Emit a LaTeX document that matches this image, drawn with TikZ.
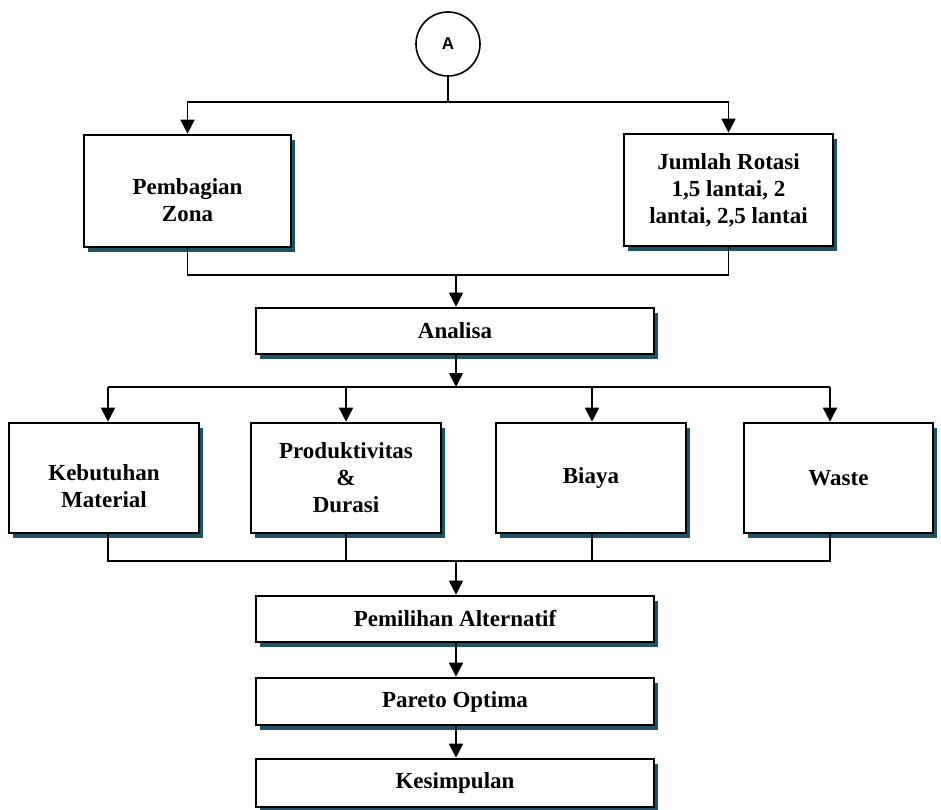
\documentclass[tikz,border=0pt]{standalone}
\usepackage{fontspec}
\setmainfont{Liberation Serif}
\newfontfamily\arialfont{Liberation Sans}
\usetikzlibrary{arrows.meta,shadows}
\definecolor{shadowc}{RGB}{31,82,98}
\begin{document}
\begin{tikzpicture}[x=1pt,y=-1pt,
  bx/.style={draw=black, line width=2.6pt, fill=white, align=center,
    font=\bfseries\fontsize{23}{27}\selectfont, inner sep=2pt,
    drop shadow={shadow xshift=4pt, shadow yshift=-5pt, fill=shadowc, opacity=1}},
  ln/.style={line width=1.6pt},
  ar/.style={line width=1.6pt, -{Triangle[width=14pt,length=14pt]}}]
\useasboundingbox (0,0) rectangle (941,810);
% circle
\node[draw, circle, line width=1.6pt, minimum size=64pt, inner sep=0pt,
  font=\arialfont\bfseries\fontsize{17}{20}\selectfont] (A) at (448,44) {A};
% boxes
\node[bx, minimum width=207pt, minimum height=112pt] (pz) at (187.5,191) {\rule{0pt}{34pt}Pembagian\\Zona};
\node[bx, minimum width=209pt, minimum height=112pt] (jr) at (728.5,190) {Jumlah Rotasi\\1,5 lantai, 2\\lantai, 2,5 lantai};
\node[bx, minimum width=398pt, minimum height=46pt] (an) at (455,331) {Analisa};
\node[bx, minimum width=190pt, minimum height=110pt] (km) at (104,478) {\rule{0pt}{32pt}Kebutuhan\\Material};
\node[bx, minimum width=190pt, minimum height=110pt] (pd) at (346,478) {Produktivitas\\\&\\Durasi};
\node[bx, minimum width=190pt, minimum height=110pt] (by) at (591,478) {Biaya};
\node[bx, minimum width=189pt, minimum height=110pt] (ws) at (838.5,478) {Waste};
\node[bx, minimum width=398pt, minimum height=46pt] (pa) at (455,619) {Pemilihan Alternatif};
\node[bx, minimum width=398pt, minimum height=47pt] (po) at (455,701.5) {Pareto Optima};
\node[bx, minimum width=398pt, minimum height=48pt] (ks) at (455,783) {Kesimpulan};
% junction coordinates
\coordinate (t1) at (448,102);
\coordinate (t2) at (456,275);
\coordinate (t3) at (456,387);
\coordinate (t4) at (456,561);
\coordinate (c1) at (108,387);
\coordinate (c2) at (346,387);
\coordinate (c3) at (592,387);
\coordinate (c4) at (830,387);
% top split
\draw[ln] (A.south) -- (t1);
\draw[ar] (t1) -| (pz.north);
\draw[ar] (t1) -| (jr.north);
% merge to Analisa
\draw[ln] (pz.south) |- (t2);
\draw[ln] (jr.south) |- (t2);
\draw[ar] (t2) -- (t2 |- an.north);
% Analisa split
\draw[ar] (t2 |- an.south) -- (t3);
\draw[ln] (c1) -- (c4);
\draw[ar] (c1) -- (c1 |- km.north);
\draw[ar] (c2) -- (c2 |- pd.north);
\draw[ar] (c3) -- (c3 |- by.north);
\draw[ar] (c4) -- (c4 |- ws.north);
% merge to Pemilihan
\draw[ln] (c1 |- km.south) |- (t4);
\draw[ln] (c4 |- ws.south) |- (t4);
\draw[ln] (c2 |- pd.south) -- (c2 |- t4);
\draw[ln] (c3 |- by.south) -- (c3 |- t4);
\draw[ar] (t4) -- (t4 |- pa.north);
\draw[ar] (t4 |- pa.south) -- (t4 |- po.north);
\draw[ar] (t4 |- po.south) -- (t4 |- ks.north);
\end{tikzpicture}
\end{document}
